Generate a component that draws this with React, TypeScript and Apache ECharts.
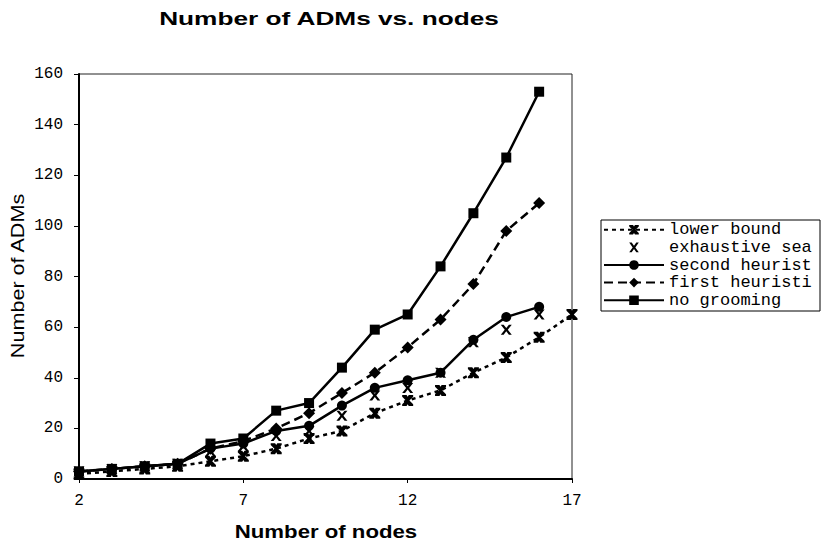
import React, { useEffect, useRef } from "react";
import * as echarts from "echarts";

const nodes = ["2", "3", "4", "5", "6", "7", "8", "9", "10", "11", "12", "13", "14", "15", "16", "17"];
const lowerBound = [2, 3, 4, 5, 7, 9, 12, 16, 19, 26, 31, 35, 42, 48, 56, 65];
const exhaustiveSearch = [3, 4, 5, 6, 11, 13, 17, 19, 25, 33, 36, 42, 54, 59, 65];
const secondHeuristic = [3, 4, 5, 6, 12, 14, 19, 21, 29, 36, 39, 42, 55, 64, 68];
const firstHeuristic = [3, 4, 5, 6, 12, 15, 20, 26, 34, 42, 52, 63, 77, 98, 109];
const noGrooming = [3, 4, 5, 6, 14, 16, 27, 30, 44, 59, 65, 84, 105, 127, 153];

const seriesNames = ["lower bound", "exhaustive search", "second heuristic", "first heuristic", "no grooming"];

const starX =
  "path://M0,0H4L5,1.6L6,0H10V1.6L6.6,5L10,8.4V10H6L5,8.4L4,10H0V8.4L3.4,5L0,1.6Z";
const plainX =
  "path://M0,0H2.6L5,3.4L7.4,0H10L6.4,5L10,10H7.4L5,6.6L2.6,10H0L3.6,5Z";

export default function App() {
  const ref = useRef<HTMLDivElement>(null);
  useEffect(() => {
    if (!ref.current) return;
    const chart = echarts.init(ref.current, null, { renderer: "svg" });
    const black = "#000";
    chart.setOption({
      animation: false,
      backgroundColor: "#fff",
      graphic: [
        {
          type: "text",
          x: 329,
          y: 18.5,
          scaleX: 1.38,
          style: {
            text: "Number of ADMs vs. nodes",
            fontFamily: "Liberation Sans",
            fontWeight: "bold",
            fontSize: 19,
            fill: black,
            textAlign: "center",
            textVerticalAlign: "middle",
          },
        },
        {
          type: "text",
          x: 326,
          y: 531.5,
          scaleX: 1.2,
          style: {
            text: "Number of nodes",
            fontFamily: "Liberation Sans",
            fontWeight: "bold",
            fontSize: 18.5,
            fill: black,
            textAlign: "center",
            textVerticalAlign: "middle",
          },
        },
        {
          type: "text",
          x: 18,
          y: 276,
          rotation: Math.PI / 2,
          scaleX: 1.2,
          style: {
            text: "Number of ADMs",
            fontFamily: "Liberation Sans",
            fontSize: 18,
            fill: black,
            textAlign: "center",
            textVerticalAlign: "middle",
          },
        },
      ],
      grid: {
        left: 79,
        top: 74,
        width: 493,
        height: 405,
        show: true,
        borderColor: "#222",
        borderWidth: 1,
        backgroundColor: "transparent",
      },
      legend: {
        data: seriesNames,
        orient: "vertical",
        left: 601,
        top: 220,
        padding: [1, 4, 2, 2],
        itemGap: 0,
        itemWidth: 60,
        itemHeight: 12,
        selectedMode: false,
        borderColor: black,
        borderWidth: 1,
        backgroundColor: "#fff",
        textStyle: {
          fontFamily: "Liberation Mono",
          fontSize: 17,
          lineHeight: 17.6,
          color: black,
          width: 147,
          overflow: "truncate",
          ellipsis: "",
        },
      },
      xAxis: {
        type: "category",
        data: nodes,
        boundaryGap: false,
        axisLine: { show: true, lineStyle: { color: black, width: 2 } },
        axisTick: { show: true, interval: 4, length: 4, lineStyle: { color: black } },
        axisLabel: {
          interval: 4,
          margin: 14,
          fontFamily: "Liberation Mono",
          fontSize: 16,
          color: black,
        },
        splitLine: { show: false },
      },
      yAxis: {
        type: "value",
        min: 0,
        max: 160,
        interval: 20,
        axisLine: { show: true, lineStyle: { color: black, width: 2 } },
        axisTick: { show: true, length: 5, lineStyle: { color: black } },
        axisLabel: {
          margin: 16,
          fontFamily: "Liberation Mono",
          fontSize: 16,
          color: black,
        },
        splitLine: { show: false },
      },
      series: [
        {
          name: "lower bound",
          type: "line",
          data: lowerBound,
          symbol: starX,
          symbolSize: [11, 11],
          itemStyle: { color: black },
          lineStyle: { color: black, width: 2.5, type: [4, 4] },
          z: 2,
        },
        {
          name: "exhaustive search",
          type: "line",
          data: exhaustiveSearch,
          symbol: plainX,
          symbolSize: [11, 10],
          itemStyle: { color: black },
          lineStyle: { width: 0, opacity: 0 },
          z: 3,
        },
        {
          name: "second heuristic",
          type: "line",
          data: secondHeuristic,
          symbol: "circle",
          symbolSize: 10,
          itemStyle: { color: black },
          lineStyle: { color: black, width: 2.5, type: "solid" },
          z: 4,
        },
        {
          name: "first heuristic",
          type: "line",
          data: firstHeuristic,
          symbol: "diamond",
          symbolSize: [12, 12],
          itemStyle: { color: black },
          lineStyle: { color: black, width: 2.5, type: [9, 5] },
          z: 5,
        },
        {
          name: "no grooming",
          type: "line",
          data: noGrooming,
          symbol: "rect",
          symbolSize: 10,
          itemStyle: { color: black },
          lineStyle: { color: black, width: 2.5, type: "solid" },
          z: 6,
        },
      ],
    });
    return () => chart.dispose();
  }, []);
  return (
    <div
      ref={ref}
      style={{ position: "fixed", left: 0, top: 0, width: 822, height: 548 }}
    />
  );
}
